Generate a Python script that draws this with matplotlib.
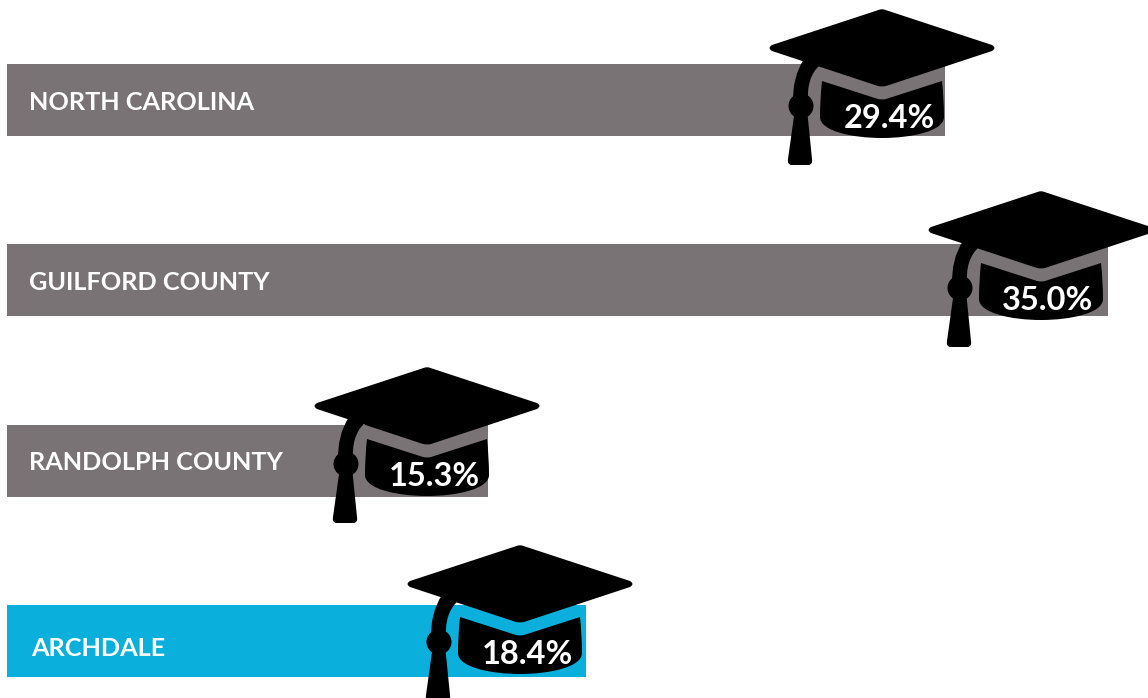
import matplotlib
matplotlib.use("Agg")
import matplotlib.pyplot as plt
from matplotlib.patches import Circle, PathPatch
from matplotlib.path import Path

# data
places = ["NORTH CAROLINA", "GUILFORD COUNTY", "RANDOLPH COUNTY", "ARCHDALE"]
pct_labels = ["29.4%", "35.0%", "15.3%", "18.4%"]
bar_lengths = [29.8, 35.0, 15.3, 18.4]  # as drawn, NC bar runs a bit long

# layout, in pixels
W, H = 1148, 698
PX_PER_PCT = 31.46
BAR_LEFT = 7
bar_y = [100, 280, 460.5, 641]
name_x = [29, 29, 29, 31]
name_y = [103, 282, 462, 649]
hat_x = [882, 1041, 427, 520]
hat_y = [9, 191, 367, 545]
GREY = "#7a7375"
BLUE = "#0bafdc"
bar_colors = [GREY, GREY, GREY, BLUE]

M, L, C, C4, Z = Path.MOVETO, Path.LINETO, Path.CURVE3, Path.CURVE4, Path.CLOSEPOLY


def board(x, y):
    pts = [(-2, 0.5), (0, 0), (2, 0.5), (110, 36), (115, 39), (110, 42), (4, 77), (0, 78),
           (-4, 77), (-110, 42), (-115, 39), (-110, 36), (-2, 0.5), (-2, 0.5)]
    codes = [M, C, C, L, C, C, L, C, C, L, C, C, L, Z]
    return Path([(x + a, y + b) for a, b in pts], codes)


def skull(x, y):
    pts = [(-60, 72), (-4, 90), (0, 91), (4, 90), (60, 72), (62, 90), (62, 108),
           (62, 122), (30, 129), (0, 129), (-30, 129), (-62, 122), (-62, 108),
           (-62, 90), (-60, 72), (-60, 72)]
    codes = [M, L, C, C, L, C, C, C4, C4, C4, C4, C4, C4, C, C, Z]
    return Path([(x + a, y + b) for a, b in pts], codes)


def cord(x, y):
    pts = [(-78, 50), (-90, 68), (-89, 95), (-74, 95), (-76, 68), (-62, 56), (-78, 50)]
    codes = [M, C, C, L, C, C, Z]
    return Path([(x + a, y + b) for a, b in pts], codes)


def tassel(x, y):
    pts = [(-87, 100), (-75, 100), (-70, 150), (-69, 155), (-73, 156), (-91, 156),
           (-95, 155), (-94, 150), (-87, 100), (-87, 100)]
    codes = [M, L, L, C, C, L, C, C, L, Z]
    return Path([(x + a, y + b) for a, b in pts], codes)


def main():
    plt.rcParams["font.family"] = ["Lato", "DejaVu Sans"]
    fig = plt.figure(figsize=(W / 100, H / 100), dpi=100)

    ax = fig.add_axes([0, 0, 1, 1])
    ax.set_xlim(-BAR_LEFT / PX_PER_PCT, (W - BAR_LEFT) / PX_PER_PCT)
    ax.set_ylim(H, 0)
    ax.barh(bar_y, bar_lengths, height=72, color=bar_colors, linewidth=0)
    ax.axis("off")

    # hats and text sit on top, in plain pixel coordinates
    top = fig.add_axes([0, 0, 1, 1])
    top.set_xlim(0, W)
    top.set_ylim(H, 0)
    top.axis("off")
    top.patch.set_alpha(0)

    for i in range(len(places)):
        x, y = hat_x[i], hat_y[i]
        for p in [skull(x, y), cord(x, y), tassel(x, y), board(x, y)]:
            top.add_patch(PathPatch(p, fc="black", ec="none"))
        top.add_patch(Circle((x - 81, y + 97), 12.5, fc="black", ec="none"))
        top.text(x + 7, y + 110, pct_labels[i], color="white", fontsize=23.5,
                 fontweight="bold", ha="center", va="center")
        top.text(name_x[i], name_y[i], places[i], color="white", fontsize=18.2,
                 fontweight="bold", ha="left", va="center")

    fig.savefig("out.png", dpi=100)


if __name__ == "__main__":
    main()
